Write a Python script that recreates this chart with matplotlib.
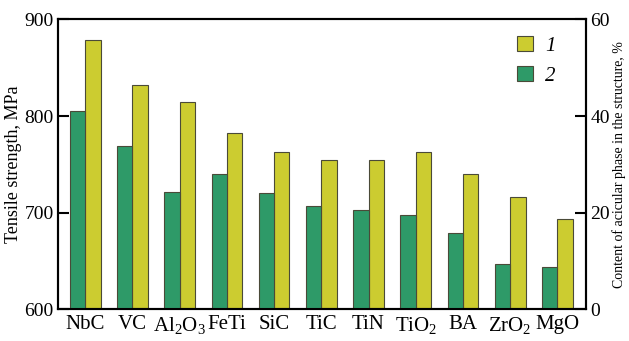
import numpy as np
import matplotlib
matplotlib.use('Agg')
import matplotlib.pyplot as plt

plt.rcParams.update({'font.size': 14, 'font.family': 'Liberation Serif',
                     'mathtext.fontset': 'custom',
                     'mathtext.rm': 'Liberation Serif',
                     'mathtext.it': 'Liberation Serif:italic'})

additives = ['NbC', 'VC', 'Al$_2$O$_3$', 'FeTi', 'SiC', 'TiC', 'TiN',
             'TiO$_2$', 'BA', 'ZrO$_2$', 'MgO']
# curve 1: tensile strength, MPa
strength = [879, 832, 815, 782, 763, 754, 754, 763, 740, 716, 693]
# curve 2: acicular phase content, %
acicular = [41.1, 33.7, 24.2, 28.1, 24.1, 21.3, 20.6, 19.6, 15.8, 9.4, 8.8]

c_yellow = '#cccc30'
c_green = '#2e9a68'
edge = '#4a4a38'

fig = plt.figure(figsize=(6.29, 3.41), dpi=100)
ax1 = fig.add_axes([0.092, 0.093, 0.84, 0.85])
ax2 = ax1.twinx()

x = np.arange(len(additives))
w = 0.324
ax1.bar(x + w / 2, strength, w, color=c_yellow, edgecolor=edge,
        linewidth=0.8, label='1', zorder=2)
ax2.bar(x - w / 2, acicular, w, color=c_green, edgecolor=edge,
        linewidth=0.8, label='2', zorder=2)

ax1.set_ylim(600, 900)
ax2.set_ylim(0, 60)
ax1.set_xlim(-0.58, 10.61)
ax1.set_yticks([600, 700, 800, 900])
ax2.set_yticks([0, 20, 40, 60])
ax1.set_xticks(x)
ax1.set_xticklabels(additives, fontsize=15)
ax1.tick_params(axis='x', length=0, pad=4)
ax1.tick_params(axis='y', direction='in', length=8, width=1.5, pad=3)
ax2.tick_params(axis='y', direction='in', length=8, width=1.5, pad=3)

for a in (ax1, ax2):
    for s in a.spines.values():
        s.set_linewidth(1.5)

ax1.set_ylabel('Tensile strength, MPa', fontsize=13, labelpad=2)
ax2.set_ylabel('Content of acicular phase in the structure, %', fontsize=10)
ax2.yaxis.set_label_coords(1.049, 0.5)

h1, l1 = ax1.get_legend_handles_labels()
h2, l2 = ax2.get_legend_handles_labels()
leg = ax2.legend(h1 + h2, l1 + l2, loc='upper right',
                 bbox_to_anchor=(0.978, 1.008), frameon=False,
                 handlelength=0.75, handleheight=0.75, labelspacing=0.5,
                 handletextpad=0.6,
                 prop={'family': 'Liberation Serif', 'style': 'italic',
                       'size': 15})

fig.savefig('out.png', dpi=100)
